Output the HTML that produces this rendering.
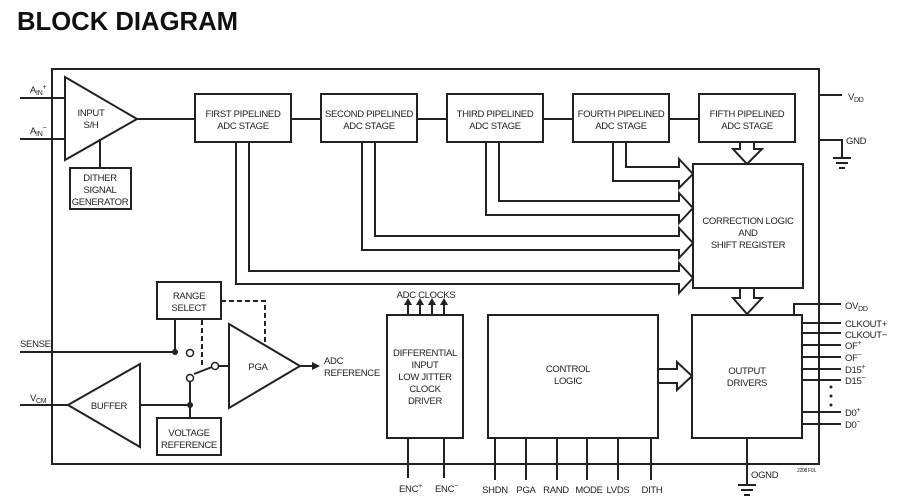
<!DOCTYPE html>
<html><head><style>
html,body{margin:0;padding:0;background:#fff;}
svg{display:block;}
text{font-family:"Liberation Sans",sans-serif;font-size:9.5px;letter-spacing:-0.3px;fill:#222;}
.t{text-anchor:middle;}
</style></head><body>
<svg width="902" height="501" viewBox="0 0 902 501" xmlns="http://www.w3.org/2000/svg">
<text x="17" y="30" textLength="221" lengthAdjust="spacingAndGlyphs" style="font-size:26px;font-weight:bold;letter-spacing:0;fill:#111">BLOCK DIAGRAM</text>
<g fill="none" stroke="#222" stroke-width="2">
<rect x="52" y="69" width="767" height="395"/>
<line x1="20" y1="98" x2="65" y2="98"/><line x1="20" y1="139" x2="65" y2="139"/>
<polygon points="65,77 137,119 65,160" fill="#fff"/>
<line x1="100" y1="139" x2="100" y2="168"/>
<rect x="70" y="168" width="61" height="41"/>
<line x1="137" y1="119" x2="195" y2="119"/>
<rect x="195" y="94" width="96" height="48"/>
<line x1="291" y1="119" x2="321" y2="119"/>
<rect x="321" y="94" width="96" height="48"/>
<line x1="417" y1="119" x2="447" y2="119"/>
<rect x="447" y="94" width="96" height="48"/>
<line x1="543" y1="119" x2="573" y2="119"/>
<rect x="573" y="94" width="96" height="48"/>
<line x1="669" y1="119" x2="699" y2="119"/>
<rect x="699" y="94" width="96" height="48"/>
<polyline points="626,142 626,167 679,167 679,159 693,174 679,188 679,181 613,181 613,142"/>
<polyline points="499,142 499,201 679,201 679,193 693,208 679,223 679,215 486,215 486,142"/>
<polyline points="375,142 375,236 679,236 679,228 693,243 679,258 679,250 362,250 362,142"/>
<polyline points="249,142 249,271 679,271 679,263 693,278 679,293 679,284 236,284 236,142"/>
<polygon points="740,142 754,142 754,149 762,149 747,164 733,149 740,149"/>
<rect x="693" y="164" width="110" height="124"/>
<polygon points="740,288 754,288 754,298 762,298 747,314 733,298 740,298"/>
<rect x="692" y="315" width="110" height="123"/>
<line x1="819" y1="95" x2="842" y2="95"/>
<polyline points="819,140 842,140 842,158"/>
<line x1="833" y1="158" x2="851" y2="158"/><line x1="836" y1="163" x2="848" y2="163"/><line x1="839" y1="168" x2="845" y2="168"/>
<polyline points="794,315 794,304 841,304"/>
<line x1="802" y1="323" x2="841" y2="323"/><line x1="802" y1="333" x2="841" y2="333"/>
<line x1="802" y1="345" x2="841" y2="345"/><line x1="802" y1="357" x2="841" y2="357"/>
<line x1="802" y1="369" x2="841" y2="369"/><line x1="802" y1="380" x2="841" y2="380"/>
<line x1="802" y1="412" x2="841" y2="412"/><line x1="802" y1="424" x2="841" y2="424"/>
<line x1="747" y1="438" x2="747" y2="485"/>
<line x1="738" y1="485" x2="756" y2="485"/><line x1="741" y1="490" x2="753" y2="490"/><line x1="744" y1="495" x2="750" y2="495"/>
<rect x="488" y="315" width="170" height="123"/>
<polygon points="658,369 677,369 677,362 692,376 677,390 677,383 658,383"/>
<line x1="495" y1="438" x2="495" y2="480"/><line x1="526" y1="438" x2="526" y2="480"/>
<line x1="557" y1="438" x2="557" y2="480"/><line x1="587" y1="438" x2="587" y2="480"/>
<line x1="618" y1="438" x2="618" y2="480"/><line x1="651" y1="438" x2="651" y2="480"/>
<rect x="387" y="315" width="76" height="123"/>
<line x1="408" y1="438" x2="408" y2="478"/><line x1="444" y1="438" x2="444" y2="478"/>
<line x1="408" y1="315" x2="408" y2="304"/><line x1="420" y1="315" x2="420" y2="304"/>
<line x1="432" y1="315" x2="432" y2="304"/><line x1="444" y1="315" x2="444" y2="304"/>
<rect x="157" y="282" width="64" height="37"/>
<line x1="175" y1="319" x2="175" y2="352"/>
<line x1="20" y1="352" x2="175" y2="352"/>
<line x1="202" y1="320" x2="202" y2="366" stroke-dasharray="5,3"/>
<polyline points="221,301 265,301 265,344" stroke-dasharray="5,3"/>
<polygon points="229,324 300,366 229,408" fill="#fff"/>
<line x1="300" y1="366" x2="312" y2="366"/>
<line x1="219" y1="366" x2="229" y2="366"/>
<line x1="194" y1="374" x2="212" y2="367"/>
<polygon points="68,405 140,364 140,447" fill="#fff"/>
<line x1="20" y1="405" x2="68" y2="405"/>
<line x1="140" y1="405" x2="190" y2="405"/>
<line x1="190" y1="382" x2="190" y2="418"/>
<rect x="157" y="418" width="64" height="37"/>
</g>
<g fill="#222">
<polygon points="312,362 320,366 312,370"/>
<polygon points="404,305 408,298 412,305"/><polygon points="416,305 420,298 424,305"/>
<polygon points="428,305 432,298 436,305"/><polygon points="440,305 444,298 448,305"/>
<circle cx="175" cy="352" r="3"/><circle cx="190" cy="405" r="3"/>
<circle cx="831" cy="387" r="1.5"/><circle cx="831" cy="396" r="1.5"/><circle cx="831" cy="405" r="1.5"/>
</g>
<g fill="#fff" stroke="#222" stroke-width="1.5">
<circle cx="190" cy="353" r="3.5"/><circle cx="215" cy="366" r="3.5"/><circle cx="190" cy="378" r="3.5"/>
</g>
<text x="30" y="93">A<tspan font-size="7" dy="2">IN</tspan><tspan font-size="7" dy="-6">+</tspan></text>
<text x="30" y="134">A<tspan font-size="7" dy="2">IN</tspan><tspan font-size="7" dy="-6">−</tspan></text>
<text class="t" x="91" y="116">INPUT</text><text class="t" x="91" y="128">S/H</text>
<text class="t" x="100" y="181">DITHER</text><text class="t" x="100" y="193">SIGNAL</text><text class="t" x="100" y="205">GENERATOR</text>
<text class="t" x="243" y="117">FIRST PIPELINED</text><text class="t" x="243" y="129">ADC STAGE</text>
<text class="t" x="369" y="117">SECOND PIPELINED</text><text class="t" x="369" y="129">ADC STAGE</text>
<text class="t" x="495" y="117">THIRD PIPELINED</text><text class="t" x="495" y="129">ADC STAGE</text>
<text class="t" x="621" y="117">FOURTH PIPELINED</text><text class="t" x="621" y="129">ADC STAGE</text>
<text class="t" x="747" y="117">FIFTH PIPELINED</text><text class="t" x="747" y="129">ADC STAGE</text>
<text class="t" x="748" y="224">CORRECTION LOGIC</text><text class="t" x="748" y="236">AND</text><text class="t" x="748" y="248">SHIFT REGISTER</text>
<text x="848" y="100">V<tspan font-size="7" dy="2">DD</tspan></text>
<text x="846" y="144">GND</text>
<text x="845" y="309">OV<tspan font-size="7" dy="2">DD</tspan></text>
<text x="845" y="327">CLKOUT+</text><text x="845" y="338">CLKOUT−</text>
<text x="845" y="349">OF<tspan font-size="7" dy="-4">+</tspan></text>
<text x="845" y="361">OF<tspan font-size="7" dy="-4">−</tspan></text>
<text x="845" y="373">D15<tspan font-size="7" dy="-4">+</tspan></text>
<text x="845" y="384">D15<tspan font-size="7" dy="-4">−</tspan></text>
<text x="845" y="416">D0<tspan font-size="7" dy="-4">+</tspan></text>
<text x="845" y="428">D0<tspan font-size="7" dy="-4">−</tspan></text>
<text class="t" x="747" y="374">OUTPUT</text><text class="t" x="747" y="386">DRIVERS</text>
<text x="751" y="478">OGND</text>
<text x="797" y="472" style="font-size:5px">2208 F01</text>
<text class="t" x="568" y="372">CONTROL</text><text class="t" x="568" y="384">LOGIC</text>
<text class="t" x="495" y="493">SHDN</text><text class="t" x="526" y="493">PGA</text><text class="t" x="556" y="493">RAND</text>
<text class="t" x="589" y="493">MODE</text><text class="t" x="618" y="493">LVDS</text><text class="t" x="652" y="493">DITH</text>
<text class="t" x="425" y="356">DIFFERENTIAL</text><text class="t" x="425" y="368">INPUT</text><text class="t" x="425" y="380">LOW JITTER</text>
<text class="t" x="425" y="392">CLOCK</text><text class="t" x="425" y="404">DRIVER</text>
<text class="t" x="426" y="298">ADC CLOCKS</text>
<text x="399" y="492">ENC<tspan font-size="7" dy="-4">+</tspan></text>
<text x="435" y="492">ENC<tspan font-size="7" dy="-4">−</tspan></text>
<text class="t" x="189" y="299">RANGE</text><text class="t" x="189" y="311">SELECT</text>
<text x="20" y="347">SENSE</text>
<text class="t" x="258" y="370">PGA</text>
<text x="324" y="364">ADC</text><text x="324" y="376">REFERENCE</text>
<text x="30" y="401">V<tspan font-size="7" dy="2">CM</tspan></text>
<text class="t" x="109" y="409">BUFFER</text>
<text class="t" x="189" y="436">VOLTAGE</text><text class="t" x="189" y="448">REFERENCE</text>
</svg>
</body></html>
